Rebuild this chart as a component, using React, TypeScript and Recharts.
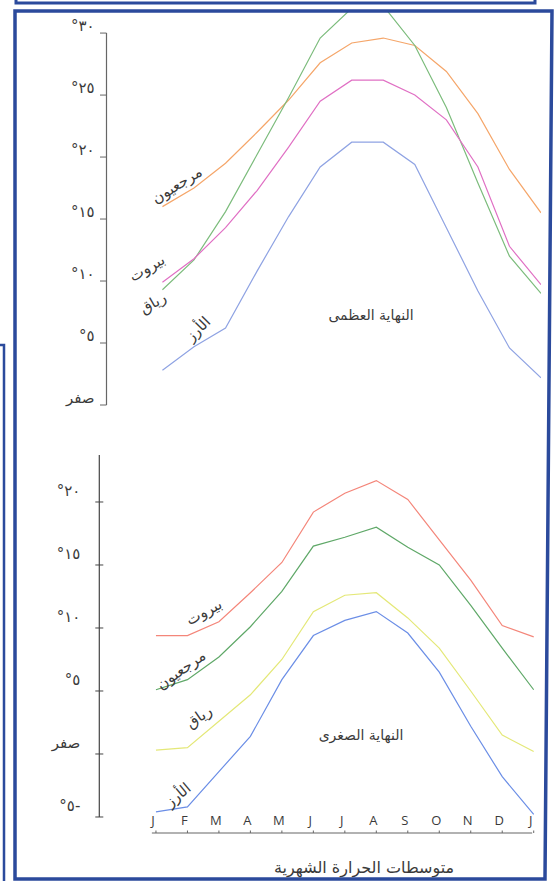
import React from "react";
import { LineChart, Line, XAxis, YAxis, ReferenceLine } from "recharts";

const MONTHS = ["J", "F", "M", "A", "M", "J", "J", "A", "S", "O", "N", "D", "J"];
const MONTH_POS = [0, 1, 2, 3, 4, 5, 6, 7, 8, 9, 10, 11, 12];

// النهاية العظمى
const MAX_MARJAYOUN = [16.0, 17.5, 19.5, 22.0, 24.6, 27.6, 29.2, 29.6, 29.0, 26.9, 23.5, 19.0, 15.5];
const MAX_BEIRUT = [9.9, 11.8, 14.3, 17.3, 20.8, 24.5, 26.2, 26.2, 25.0, 23.0, 19.2, 12.8, 9.7];
const MAX_RAYAK = [9.3, 11.7, 15.6, 20.2, 24.8, 29.6, 32.0, 32.2, 29.0, 24.0, 17.9, 12.0, 9.0];
const MAX_CEDARS = [2.8, 4.7, 6.2, 10.8, 15.2, 19.2, 21.2, 21.2, 19.4, 14.3, 9.2, 4.6, 2.2];

// النهاية الصغرى
const MIN_BEIRUT = [9.4, 9.4, 10.5, 12.8, 15.2, 19.2, 20.7, 21.7, 20.2, 17.0, 13.8, 10.2, 9.3];
const MIN_MARJAYOUN = [5.1, 5.9, 7.7, 10.1, 12.9, 16.5, 17.2, 18.0, 16.4, 15.0, 11.8, 8.4, 5.1];
const MIN_RAYAK = [0.3, 0.5, 2.6, 4.7, 7.5, 11.3, 12.6, 12.8, 10.8, 8.4, 5.0, 1.5, 0.2];
const MIN_CEDARS = [-4.6, -4.2, -1.4, 1.4, 5.9, 9.4, 10.6, 11.3, 9.6, 6.5, 2.2, -1.8, -4.8];

const MAX_TICKS = [0, 5, 10, 15, 20, 25, 30];
const MAX_TICK_LABELS = ["صفر", "°٥", "°١٠", "°١٥", "°٢٠", "°٢٥", "°٣٠"];
const MIN_TICKS = [-5, 0, 5, 10, 15, 20];
const MIN_TICK_LABELS = ["°٥-", "صفر", "°٥", "°١٠", "°١٥", "°٢٠"];

const maxData = MONTH_POS.map((m, i) => ({
  m,
  marjayoun: MAX_MARJAYOUN[i],
  beirut: MAX_BEIRUT[i],
  rayak: MAX_RAYAK[i],
  cedars: MAX_CEDARS[i],
}));

const minData = MONTH_POS.map((m, i) => ({
  m,
  marjayoun: MIN_MARJAYOUN[i],
  beirut: MIN_BEIRUT[i],
  rayak: MIN_RAYAK[i],
  cedars: MIN_CEDARS[i],
}));

const AR_FONT = "'DejaVu Sans', sans-serif";
const AXIS = "#666";
const TEXT = "#3a3a3a";
const FRAME = "#2b4a9c";

// x domains chosen so the y axis sits left of January
const X1_MIN = -1.773;
const Y1_MAX = 31.7;
const X2_MIN = -1.8;
const X2_MAX = 12.2;
const Y2_MIN = -6.27;
const Y2_MAX = 23.73;

function MaxTick(props: any) {
  const { x, y, payload } = props;
  const label = MAX_TICK_LABELS[MAX_TICKS.indexOf(payload.value)];
  return (
    <g>
      <line x1={x - 6.5} x2={x} y1={y} y2={y} stroke={AXIS} strokeWidth={1} />
      <text
        x={x - 12}
        y={y - 7}
        textAnchor="end"
        dominantBaseline="central"
        fontSize={15}
        fontFamily={AR_FONT}
        fill={TEXT}
      >
        {label}
      </text>
    </g>
  );
}

function MinTick(props: any) {
  const { x, y, payload } = props;
  const label = MIN_TICK_LABELS[MIN_TICKS.indexOf(payload.value)];
  return (
    <g>
      <line x1={x - 4} x2={x + 4} y1={y} y2={y} stroke="#444" strokeWidth={1} />
      <text
        x={x - 19}
        y={y - 10.5}
        textAnchor="end"
        dominantBaseline="central"
        fontSize={15}
        fontFamily={AR_FONT}
        fill={TEXT}
      >
        {label}
      </text>
    </g>
  );
}

function MonthTick(props: any) {
  const { x, y, payload } = props;
  return (
    <g>
      <line x1={x} x2={x} y1={y - 2.5} y2={y} stroke={AXIS} strokeWidth={1} />
      <text
        x={x - 3}
        y={y - 13}
        textAnchor="middle"
        dominantBaseline="central"
        fontSize={13}
        fontFamily="'Open Sans', sans-serif"
        fill={TEXT}
      >
        {MONTHS[payload.value]}
      </text>
    </g>
  );
}

function StationLabel({ x, y, angle, text, size = 15, spacing = 1 }: any) {
  return (
    <text
      transform={`translate(${x},${y}) rotate(${angle})`}
      textAnchor="middle"
      dominantBaseline="central"
      fontSize={size}
      letterSpacing={spacing}
      fontFamily={AR_FONT}
      fill={TEXT}
    >
      {text}
    </text>
  );
}

export default function App() {
  return (
    <div
      style={{
        position: "absolute",
        left: 0,
        top: 0,
        width: 556,
        height: 881,
        background: "#fff",
        overflow: "hidden",
      }}
    >
      <div style={{ position: "absolute", left: 0, top: 0 }}>
        <LineChart
          width={556}
          height={420}
          data={maxData}
          margin={{ top: 12, right: 15, bottom: 15, left: 0 }}
        >
          <XAxis type="number" dataKey="m" domain={[X1_MIN, 12]} allowDataOverflow hide />
          <YAxis
            type="number"
            domain={[0, Y1_MAX]}
            allowDataOverflow
            ticks={MAX_TICKS}
            interval={0}
            width={106.5}
            axisLine={false}
            tickLine={false}
            tickSize={0}
            tickMargin={0}
            tick={(p: any) => <MaxTick {...p} />}
          />
          <ReferenceLine
            segment={[
              { x: X1_MIN, y: 0 },
              { x: X1_MIN, y: 30 },
            ]}
            stroke={AXIS}
            strokeWidth={1.2}
            ifOverflow="visible"
          />
          <Line type="linear" dataKey="marjayoun" stroke="#f5a66a" strokeWidth={1.2} dot={false} isAnimationActive={false} />
          <Line type="linear" dataKey="rayak" stroke="#7cbc7c" strokeWidth={1.2} dot={false} isAnimationActive={false} />
          <Line type="linear" dataKey="beirut" stroke="#e070c4" strokeWidth={1.2} dot={false} isAnimationActive={false} />
          <Line type="linear" dataKey="cedars" stroke="#8fa3e3" strokeWidth={1.2} dot={false} isAnimationActive={false} />
        </LineChart>
      </div>

      <div style={{ position: "absolute", left: 0, top: 440 }}>
        <LineChart
          width={556}
          height={441}
          data={minData}
          margin={{ top: 15, right: 16, bottom: 18, left: 0 }}
        >
          <XAxis
            type="number"
            dataKey="m"
            domain={[X2_MIN, X2_MAX]}
            allowDataOverflow
            ticks={MONTH_POS}
            interval={0}
            height={30}
            axisLine={false}
            tickLine={false}
            tickSize={0}
            tickMargin={0}
            tick={(p: any) => <MonthTick {...p} />}
          />
          <YAxis
            type="number"
            domain={[Y2_MIN, Y2_MAX]}
            allowDataOverflow
            ticks={MIN_TICKS}
            interval={0}
            width={99.3}
            axisLine={false}
            tickLine={false}
            tickSize={0}
            tickMargin={0}
            tick={(p: any) => <MinTick {...p} />}
          />
          <ReferenceLine
            segment={[
              { x: X2_MIN, y: -5 },
              { x: X2_MIN, y: Y2_MAX },
            ]}
            stroke="#444"
            strokeWidth={1.2}
            ifOverflow="visible"
          />
          <ReferenceLine
            segment={[
              { x: -0.13, y: Y2_MIN },
              { x: 11.95, y: Y2_MIN },
            ]}
            stroke={AXIS}
            strokeWidth={1.2}
            ifOverflow="visible"
          />
          <Line type="linear" dataKey="beirut" stroke="#f4867a" strokeWidth={1.2} dot={false} isAnimationActive={false} />
          <Line type="linear" dataKey="marjayoun" stroke="#5fa868" strokeWidth={1.2} dot={false} isAnimationActive={false} />
          <Line type="linear" dataKey="rayak" stroke="#e4e878" strokeWidth={1.2} dot={false} isAnimationActive={false} />
          <Line type="linear" dataKey="cedars" stroke="#6b8ee6" strokeWidth={1.2} dot={false} isAnimationActive={false} />
        </LineChart>
      </div>

      <svg
        width={556}
        height={881}
        style={{ position: "absolute", left: 0, top: 0, pointerEvents: "none" }}
      >
        {/* frame */}
        <polyline points="16,0 16,3 535,3 535,0" fill="none" stroke={FRAME} strokeWidth={3} />
        <polygon points="15,11 552,11 545,879 15,879" fill="none" stroke={FRAME} strokeWidth={3.5} />
        <polyline points="0,345 4,345 4,881" fill="none" stroke={FRAME} strokeWidth={2.5} />

        {/* top chart labels */}
        <StationLabel x={177} y={185} angle={-32} text="مرجعيون" />
        <StationLabel x={147} y={268} angle={-30} text="بيروت" />
        <StationLabel x={153} y={303} angle={-30} text="رياق" />
        <StationLabel x={198} y={329} angle={-45} text="الأرز" />
        <StationLabel x={371} y={315} angle={0} text="النهاية العظمى" size={14} spacing={0} />

        {/* bottom chart labels */}
        <StationLabel x={204} y={612} angle={-28} text="بيروت" />
        <StationLabel x={181} y={670} angle={-35} text="مرجعيون" />
        <StationLabel x={199} y={717} angle={-35} text="رياق" />
        <StationLabel x={178} y={795} angle={-40} text="الأرز" />
        <StationLabel x={361} y={735} angle={0} text="النهاية الصغرى" size={14} spacing={0} />
        <StationLabel x={364} y={867} angle={0} text="متوسطات الحرارة الشهرية" size={16} spacing={0} />
      </svg>
    </div>
  );
}
